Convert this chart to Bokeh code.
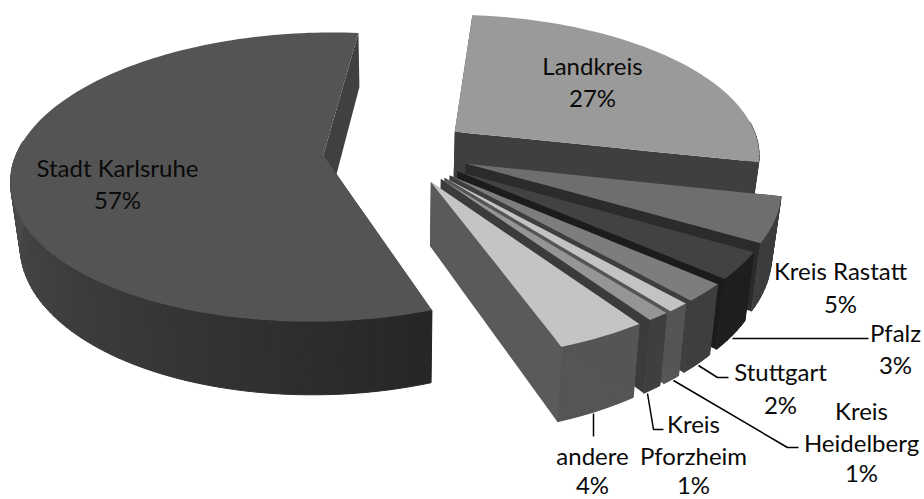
import numpy as np
from bokeh.embed import file_html
from bokeh.models import ColumnDataSource, Range1d
from bokeh.plotting import figure
from bokeh.resources import INLINE
from bokeh.core.properties import value

# Clockwise from the first slice
names = ["Landkreis", "Kreis Rastatt", "Pfalz", "Stuttgart", "Kreis Heidelberg",
         "Kreis Pforzheim", "andere", "Stadt Karlsruhe"]
shares = [27, 5, 3, 2, 1, 1, 4, 57]

top_grey = ["#9a9a9a", "#6e6e6e", "#424242", "#7d7d7d", "#c3c3c3", "#959595", "#c4c4c4", "#545454"]
side_grey = ["#3f3f3f", "#2b2b2b", "#1c1c1c", "#3e3e3e", "#555555", "#3b3b3b", "#5a5a5a", "#404040"]
rim_from = [0x3f, 0x3a, 0x1e, 0x3e, 0x55, 0x3f, 0x55, 0x26]
rim_to = [0x3f, 0x3d, 0x1e, 0x3e, 0x55, 0x3f, 0x55, 0x4e]

# Perspective view of the pie, in page pixels
START_DEG = 5.5
CX, CY = 396.0, 150.5
SCALE_X, SCALE_Y = 306.0, 140.0
PERSP = 0.15
DEPTH = 62.0
FLOOR_SHRINK = 0.975
EXPLODE = 0.24


def project(x, yn, floor=False):
    w = 1.0 - PERSP * yn
    sx = SCALE_X * x / w
    sy = CY + SCALE_Y * yn / w
    if floor:
        sx *= FLOOR_SHRINK
        sy += DEPTH / w
    return CX + sx, sy


def blend(a, b, t):
    g = int(round(a + (b - a) * t))
    return f"#{g:02x}{g:02x}{g:02x}"


p = figure(width=924, height=499, output_backend="svg", toolbar_location=None,
           x_range=Range1d(0, 924), y_range=Range1d(499, 0),
           x_axis_type=None, y_axis_type=None, min_border=0,
           outline_line_color=None, background_fill_color="white")
p.grid.visible = False

xs, ys, fills, widths = [], [], [], []


def add(px, py, colour, width):
    xs.append(list(px))
    ys.append(list(py))
    fills.append(colour)
    widths.append(width)


edges = START_DEG + 3.6 * np.concatenate([[0], np.cumsum(shares)])
order = [7, 0, 1, 2, 3, 4, 5, 6]
for i in order:
    a0, a1 = edges[i], edges[i + 1]
    mid = np.radians((a0 + a1) / 2)
    ax, ay = EXPLODE * np.sin(mid), -EXPLODE * np.cos(mid)
    theta = np.radians(np.linspace(a0, a1, max(4, int((a1 - a0) / 1.5))))
    rx, ry = ax + np.sin(theta), ay - np.cos(theta)

    # radial side walls, both drawn; the top face hides whichever turns away
    for rad_x, rad_y in ((rx[0], ry[0]), (rx[-1], ry[-1])):
        t = np.linspace(0, 1, 12)
        ex, ey = ax + (rad_x - ax) * t, ay + (rad_y - ay) * t
        tx, ty = project(ex, ey)
        bx, by = project(ex, ey, True)
        add(np.r_[tx, bx[::-1]], np.r_[ty, by[::-1]], side_grey[i], 0.0)

    # outer rim, shaded strip by strip over the part that faces the viewer
    tx, ty = project(rx, ry)
    bx, by = project(rx, ry, True)
    facing = [k for k in range(len(rx) - 1) if np.cos(theta[k]) < 0.1]
    for pos, k in enumerate(facing):
        add([tx[k], tx[k + 1], bx[k + 1], bx[k]], [ty[k], ty[k + 1], by[k + 1], by[k]],
            blend(rim_from[i], rim_to[i], pos / max(len(facing) - 1, 1)), 1.0)

    # top face
    t = np.linspace(0, 1, 12)
    lx, ly = project(ax + (rx[0] - ax) * t, ay + (ry[0] - ay) * t)
    mx, my = project(ax + (rx[-1] - ax) * t[::-1], ay + (ry[-1] - ay) * t[::-1])
    add(np.r_[lx, tx, mx], np.r_[ly, ty, my], top_grey[i], 0.0)

p.patches("xs", "ys", source=ColumnDataSource(dict(xs=xs, ys=ys, c=fills, w=widths)),
          fill_color="c", line_color="c", line_width="w")

# Leader lines to the labels outside the pie
leader_x = [[732, 868], [698, 717, 728], [673, 787, 798], [647, 653, 663], [593, 593]]
leader_y = [[338, 338], [365, 377, 377], [380, 447, 447], [393, 429, 429], [413, 436]]
p.multi_line(leader_x, leader_y, line_color="black", line_width=1.5)

# Label lines with their centres
label_text = ["Stadt Karlsruhe", "57%", "Landkreis", "27%", "Kreis Rastatt", "5%",
              "Pfalz", "3%", "Stuttgart", "2%", "Kreis", "Heidelberg", "1%",
              "Kreis", "Pforzheim", "1%", "andere", "4%"]
label_x = [117, 117, 592, 592, 840, 840, 895, 895, 780, 780, 861, 861, 861, 693, 693, 693, 592, 592]
label_y = [167, 199, 65, 97, 270, 303, 332, 364, 371, 404, 410, 442, 472, 423, 455, 484, 455, 484]
p.text(label_x, label_y, text=label_text, text_font=value("Lato"), text_font_size="24px",
       text_align="center", text_baseline="middle", text_color="#0a0a0a")

open("out.html", "w").write(file_html(p, INLINE))
